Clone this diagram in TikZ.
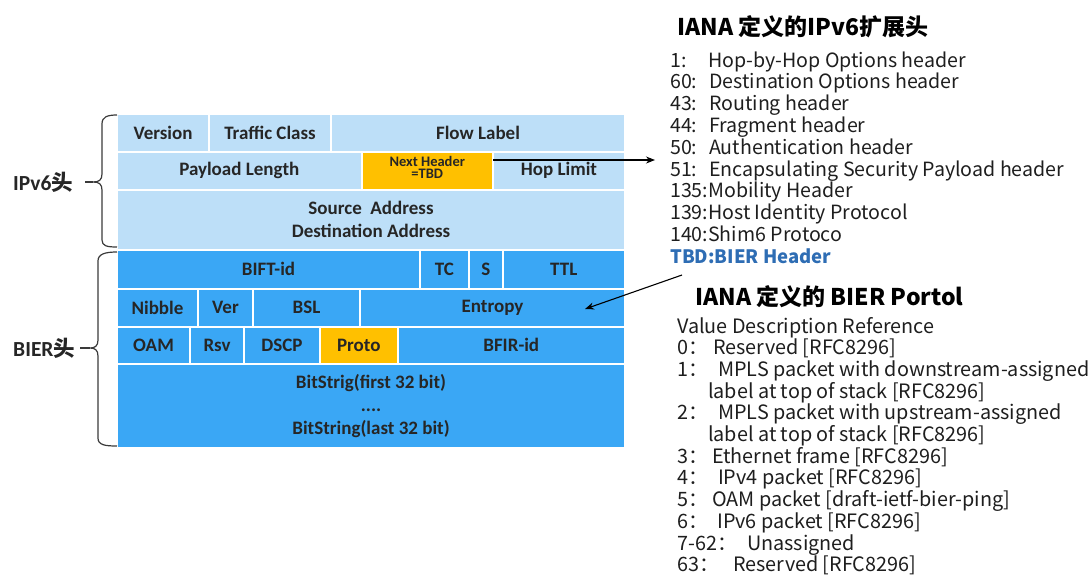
\documentclass[tikz,border=0pt]{standalone}
\usepackage{fontspec}
\setmainfont{Carlito}
\newfontfamily\cjk{Noto Sans CJK SC}
\usetikzlibrary{arrows.meta}

\definecolor{ipvsixblue}{HTML}{BDDFF8}
\definecolor{bierblue}{HTML}{3AA7F5}
\definecolor{keyorange}{HTML}{FFC000}
\definecolor{celltext}{HTML}{262626}
\definecolor{listtext}{HTML}{1E1E1E}
\definecolor{tbdblue}{HTML}{2E6DB4}
\definecolor{bracegray}{HTML}{3A3A3A}

% one header field: name, x1, y1, x2, y2, fill, text
\newcommand\fieldcell[7]{%
  \node[fieldbox, fill=#6, minimum width={(#4-#2)*1pt}, minimum height={(#5-#3)*1pt}]
    (#1) at ({(#2+#4)/2},{(#3+#5)/2}) {#7};}

\begin{document}
\begin{tikzpicture}[x=1pt, y=-1pt,
  fieldbox/.style={draw=white, line width=2pt, inner sep=0pt, outer sep=0pt,
    font=\bfseries\fontsize{19}{23}\selectfont, text=celltext, align=center},
  sidelabel/.style={font=\bfseries\fontsize{21.5}{24}\selectfont, text=celltext,
    inner sep=0pt, anchor=west},
  bracepath/.style={draw=bracegray, line width=1.2pt, line join=round},
  pointer/.style={draw=black, line width=1.1pt, -{Stealth[length=9pt, width=7pt]}},
  listline/.style={anchor=base west, inner sep=0pt, text=listtext,
    font=\cjk\fontsize{19.6}{22}\selectfont},
  listtitle/.style={anchor=west, inner sep=0pt, text=black,
    font=\cjk\bfseries\fontsize{23}{26}\selectfont}]

\useasboundingbox (0,0) rectangle (1091,574);

% ---------------- IPv6 header ----------------
\fieldcell{version}{117}{114}{209}{151.5}{ipvsixblue}{Version}
\fieldcell{tclass}{209}{114}{331}{151.5}{ipvsixblue}{Traffic Class}
\fieldcell{flow}{331}{114}{625}{151.5}{ipvsixblue}{Flow Label}
\fieldcell{paylen}{117}{151.5}{361.5}{190}{ipvsixblue}{Payload Length}
\fieldcell{nh}{361.5}{151.5}{493}{190}{keyorange}{}
\node[inner sep=0pt, align=center, text=celltext,
  font=\bfseries\fontsize{14.5}{12.5}\selectfont] (nhtext) at ([yshift=3.5pt]nh.center)
  {Next Header\\=TBD};
\fieldcell{hoplim}{493}{151.5}{625}{190}{ipvsixblue}{Hop Limit}
\fieldcell{addr}{117}{190}{625}{249.5}{ipvsixblue}{Source\ \ Address\\Destination Address}

% ---------------- BIER header ----------------
\fieldcell{bift}{117}{249.5}{420}{288.5}{bierblue}{BIFT-id}
\fieldcell{tc}{420}{249.5}{469}{288.5}{bierblue}{TC}
\fieldcell{sbit}{469}{249.5}{502.5}{288.5}{bierblue}{S}
\fieldcell{ttl}{502.5}{249.5}{625}{288.5}{bierblue}{TTL}
\fieldcell{nibble}{117}{288.5}{198}{326.5}{bierblue}{Nibble}
\fieldcell{ver}{198}{288.5}{253}{326.5}{bierblue}{Ver}
\fieldcell{bsl}{253}{288.5}{360}{326.5}{bierblue}{BSL}
\fieldcell{entropy}{360}{288.5}{625}{326.5}{bierblue}{Entropy}
\fieldcell{oam}{117}{326.5}{190}{364}{bierblue}{OAM}
\fieldcell{rsv}{190}{326.5}{244}{364}{bierblue}{Rsv}
\fieldcell{dscp}{244}{326.5}{320}{364}{bierblue}{DSCP}
\fieldcell{proto}{320}{326.5}{397.5}{364}{keyorange}{Proto}
\fieldcell{bfir}{397.5}{326.5}{625}{364}{bierblue}{BFIR-id}
\fieldcell{bitstr}{117}{364}{625}{448}{bierblue}{BitStrig(first 32 bit)\\....\\BitString(last 32 bit)}

% ---------------- braces and side labels ----------------
\coordinate (v6tip) at (93,182);
\coordinate (biertip) at (90,348);
\draw[bracepath] (117,115) .. controls (107,115) and (102,117) .. (102,124)
  -- (102,174) .. controls (102,180) and (99,182) .. (v6tip)
  .. controls (99,182) and (102,184) .. (102,190)
  -- (102,240) .. controls (102,246) and (107,247) .. (117,247);
\draw[bracepath] (117,252) .. controls (105,252) and (98,254) .. (98,261)
  -- (98,340) .. controls (98,346) and (95,348) .. (biertip)
  .. controls (95,348) and (98,350) .. (98,356)
  -- (98,438) .. controls (98,445) and (105,446) .. (117,446);

\node[sidelabel] (v6label) at (13,182) {IPv6{\cjk\bfseries 头}};
\node[sidelabel] (bierlabel) at (13,348) {BIER{\cjk\bfseries 头}};
\draw[bracepath] (v6tip -| 85,0) -- (v6tip);
\draw[bracepath] (biertip -| 80,0) -- (biertip);

% ---------------- IANA IPv6 extension header list ----------------
\node[listtitle] (exttitle) at (677,27) {IANA 定义的IPv6扩展头};
\foreach \entry [count=\i from 0] in {
  {\makebox[38pt][l]{1:}Hop-by-Hop Options header},
  {\makebox[39pt][l]{60:}Destination Options header},
  {\makebox[39pt][l]{43:}Routing header},
  {\makebox[39pt][l]{44:}Fragment header},
  {\makebox[39pt][l]{50:}Authentication header},
  {\makebox[39pt][l]{51:}Encapsulating Security Payload header},
  {135:Mobility Header},
  {139:Host Identity Protocol},
  {140:Shim6 Protoco}}
  \node[listline] (ext\i) at (670,{67+21.8*\i}) {\entry};
\node[listline, text=tbdblue, font=\cjk\bfseries\fontsize{18.5}{21}\selectfont]
  (exttbd) at (670,263.2) {TBD:BIER Header};

% ---------------- IANA BIER protocol list ----------------
\node[listtitle] (prototitle) at (695,297) {IANA 定义的 BIER Portol};
\foreach \entry [count=\i from 0] in {
  {Value Description Reference},
  {\makebox[36pt][l]{0：}Reserved [RFC8296]},
  {\makebox[41pt][l]{1：}MPLS packet with downstream-assigned},
  {\hspace{31pt}label at top of stack [RFC8296]},
  {\makebox[41pt][l]{2：}MPLS packet with upstream-assigned},
  {\hspace{31pt}label at top of stack [RFC8296]},
  {\makebox[35pt][l]{3：}Ethernet frame [RFC8296]},
  {\makebox[41pt][l]{4：}IPv4 packet [RFC8296]},
  {\makebox[35pt][l]{5：}OAM packet [draft-ietf-bier-ping]},
  {\makebox[40pt][l]{6：}IPv6 packet [RFC8296]},
  {\makebox[70pt][l]{7-62：}Unassigned},
  {\makebox[56pt][l]{63：}Reserved [RFC8296]}}
  \node[listline, font=\cjk\fontsize{19.8}{22}\selectfont] (proto\i)
    at (677,{333+21.7*\i}) {\entry};

% ---------------- pointers ----------------
\coordinate (nhto) at (655,160);
\draw[pointer] (nhto -| nh.east) -- (nhto);
\coordinate (protofrom) at (682,275);
\coordinate (prototo) at (585,309);
\draw[pointer] (protofrom) -- (prototo);
\end{tikzpicture}
\end{document}
